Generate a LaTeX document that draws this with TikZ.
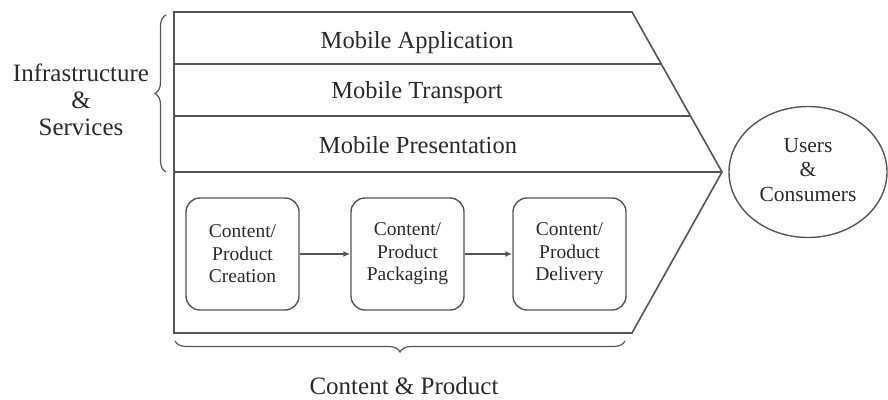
\documentclass[tikz,border=0pt]{standalone}
\usepackage{fontspec}
\setmainfont{Liberation Serif}
\usetikzlibrary{decorations.pathreplacing,arrows.meta,shapes.geometric}
\definecolor{ln}{HTML}{555555}
\definecolor{tx}{HTML}{2a2a2a}
\begin{document}
\begin{tikzpicture}[x=1pt,y=-1pt,
  frame/.style={draw=ln,line width=1.6pt,line join=miter},
  layer/.style={text=tx,font=\fontsize{24.5}{28}\selectfont},
  stepbox/.style={draw=ln,line width=1.4pt,rounded corners=14pt,minimum width=113pt,minimum height=112pt,align=center,text=tx,font=\fontsize{19.5}{22.5}\selectfont},
  brc/.style={draw=ln,line width=1.2pt,decorate,decoration={brace,amplitude=11pt}},
  lbl/.style={text=tx,align=center,font=\fontsize{25}{27}\selectfont},
  flow/.style={draw=ln,line width=1.4pt,-{Latex[length=7pt,width=6pt]}}]
\useasboundingbox (0,0) rectangle (888,399);
\draw[frame] (174,12) -- (632,12) -- (722,172) -- (632,333) -- (174,333) -- cycle;
\draw[frame] (174,64) -- (661,64);
\draw[frame] (174,116) -- (690.5,116);
\draw[frame] (174,172) -- (722,172);
\node[layer] (app) at (417,43) {Mobile Application};
\node[layer] (trn) at (417,93) {Mobile Transport};
\node[layer] (prs) at (418,145) {Mobile Presentation};
\node[stepbox] (cre) at (242.5,254) {Content/\\Product\\Creation};
\node[stepbox] (pkg) at (407.5,254) {Content/\\Product\\Packaging};
\node[stepbox] (del) at (569.5,254) {Content/\\Product\\Delivery};
\draw[flow] (cre) -- (pkg);
\draw[flow] (pkg) -- (del);
\node[draw=ln,line width=1.4pt,ellipse,minimum width=158pt,minimum height=131pt,text=tx,font=\fontsize{21.5}{24.5}\selectfont] (usr) at (808,172) {\raisebox{5pt}{\begin{tabular}{@{}c@{}}Users\\\&\\Consumers\end{tabular}}};
\coordinate (lb1) at (166,172);
\coordinate (lb2) at (166,15);
\draw[brc] (lb1) -- (lb2);
\node[lbl] (inf) at (81,100) {Infrastructure\\\&\\Services};
\coordinate (bb1) at (625,341);
\coordinate (bb2) at (175,341);
\draw[brc] (bb1) -- (bb2);
\node[lbl] (cp) at (404,386) {Content \& Product};
\end{tikzpicture}
\end{document}
